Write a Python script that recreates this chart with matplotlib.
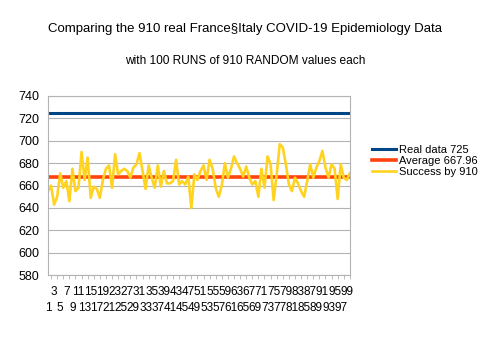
import matplotlib.pyplot as plt

plt.rcParams['font.family'] = ['Liberation Sans', 'DejaVu Sans']

# データ
runs = list(range(1, 101))
success = [655, 660, 643, 650, 671, 658, 664, 646, 675, 655,
           658, 690, 665, 685, 649, 659, 657, 649, 665, 675,
           678, 658, 688, 670, 673, 675, 673, 667, 676, 679,
           689, 673, 657, 678, 667, 658, 678, 659, 673, 662,
           662, 664, 683, 661, 664, 661, 668, 640, 670, 665,
           673, 678, 665, 683, 675, 658, 650, 660, 680, 667,
           675, 686, 680, 675, 668, 677, 667, 661, 664, 650,
           675, 658, 686, 679, 647, 670, 697, 694, 679, 661,
           655, 667, 662, 655, 650, 664, 679, 667, 676, 682,
           691, 676, 667, 679, 675, 648, 679, 667, 665, 671]
real_value = 725
average_value = 667.96

fig = plt.figure(figsize=(4.9, 3.38), dpi=100)
ax = fig.add_axes([0.098, 0.186, 0.616, 0.530])

ax.plot(runs, [real_value] * len(runs), color='#004586', lw=2.2, label='Real data 725')
ax.plot(runs, [average_value] * len(runs), color='#ff420e', lw=2.6, label='Average 667.96')
ax.plot(runs, success, color='#ffd320', lw=1.9, label='Success by 910')

ax.set_xlim(1, 100)
ax.set_ylim(580, 740)
ax.set_yticks(range(580, 741, 20))
ax.yaxis.grid(True, color='#b3b3b3', lw=0.8)
ax.set_axisbelow(True)
ax.tick_params(axis='y', length=0, labelsize=9, pad=6)

# x軸ラベル（2段）
odd = [i for i in runs if i % 2 == 1]
ax.set_xticks(odd)
ax.set_xticklabels([str(i) if i % 4 == 3 else '\n' + str(i) for i in odd],
                   linespacing=1.4)
ax.tick_params(axis='x', length=0, labelsize=8.5, pad=8)
ax.set_xticks(runs, minor=True)
ax.tick_params(axis='x', which='minor', length=3, color='#b3b3b3', width=0.6)
for s in ax.spines.values():
    s.set_color('#b3b3b3')
    s.set_linewidth(0.8)

ax.legend(loc='center left', bbox_to_anchor=(1.075, 0.637), frameon=False,
          fontsize=8, handlelength=2.15, handletextpad=0.2, labelspacing=0.1,
          borderpad=0, borderaxespad=0)

fig.text(0.5, 0.915, 'Comparing the 910 real France§Italy COVID-19 Epidemiology Data',
         ha='center', va='center', fontsize=9.5)
fig.text(0.5, 0.82, 'with 100 RUNS of 910 RANDOM values each',
         ha='center', va='center', fontsize=8.6)

plt.savefig('out.png', dpi=100)
